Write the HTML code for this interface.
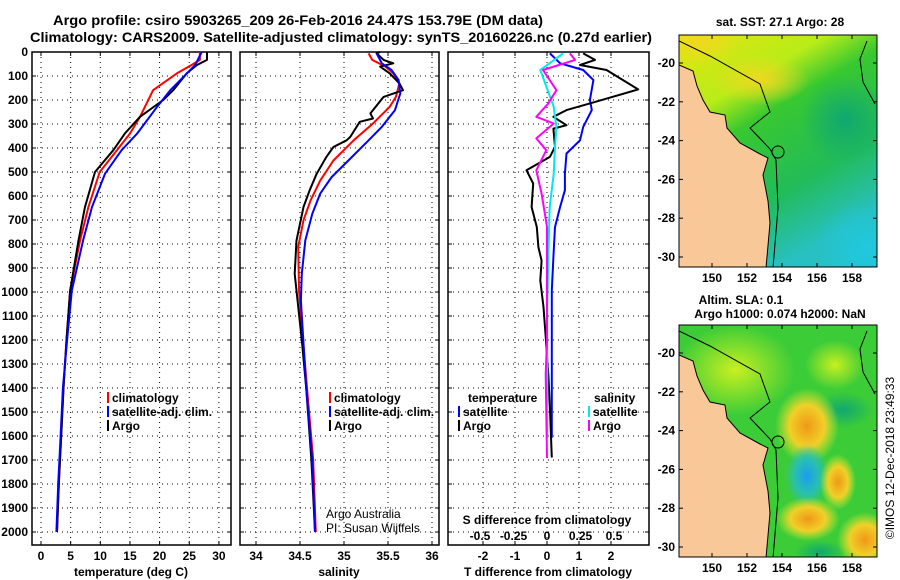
<!DOCTYPE html>
<html><head><meta charset="utf-8"><style>
html,body{margin:0;padding:0;background:#fff;}
svg{display:block;font-family:"Liberation Sans",sans-serif;}
.b{font-weight:bold;font-size:12px;}
.t{font-weight:bold;font-size:14px;}
</style></head><body>
<svg id="c" width="900" height="580" viewBox="0 0 900 580" xmlns="http://www.w3.org/2000/svg">
<defs>
<linearGradient id="sst" x1="0" y1="0" x2="0.5" y2="1">
<stop offset="0" stop-color="#e6e410"/><stop offset="0.3" stop-color="#b8ec18"/><stop offset="0.45" stop-color="#38c830"/><stop offset="0.75" stop-color="#22bc58"/><stop offset="1" stop-color="#28c0c0"/>
</linearGradient>
<radialGradient id="or"><stop offset="0" stop-color="#f09818"/><stop offset="0.55" stop-color="#f0d028"/><stop offset="1" stop-color="#d0e830" stop-opacity="0"/></radialGradient>
<radialGradient id="bl"><stop offset="0" stop-color="#1c9cf0"/><stop offset="0.55" stop-color="#28c0b0"/><stop offset="1" stop-color="#28c0b0" stop-opacity="0"/></radialGradient>
<radialGradient id="yl"><stop offset="0" stop-color="#c8f020"/><stop offset="1" stop-color="#c8f020" stop-opacity="0"/></radialGradient>
<radialGradient id="ye"><stop offset="0" stop-color="#f0d820"/><stop offset="1" stop-color="#f0d820" stop-opacity="0"/></radialGradient>
<radialGradient id="dg"><stop offset="0" stop-color="#10a870"/><stop offset="1" stop-color="#10a870" stop-opacity="0"/></radialGradient>
<radialGradient id="cy"><stop offset="0" stop-color="#20c8e0"/><stop offset="1" stop-color="#20c8e0" stop-opacity="0"/></radialGradient>
</defs>
<g id="g"></g>
</svg>
<script>
// ---- data ----
const tArgoD=[0,33,54,88,159,200,270,338,409,500,647,787,996,1200,1400,1600,1800,2000];
const tArgo=[28,28,26.3,24.6,22.3,20.6,16.7,14.2,12.2,9.1,7.4,6.3,4.9,4.3,3.8,3.4,3.0,2.7];
const tClimD=[0,33,54,89,159,270,340,409,500,646,785,994,1200,1400,1600,1800,2000];
const tClim=[26.8,26.8,25.4,22.9,18.9,16.7,15.0,12.8,9.9,8.0,6.6,4.9,4.3,3.8,3.4,3.0,2.7];
const tSatD=[0,54,89,159,228,340,409,507,646,785,994,1200,1400,1600,1800,2000];
const tSat=[27.1,26.0,24.6,21.8,19.6,16.2,13.6,10.8,8.6,7.1,5.2,4.4,3.7,3.3,2.9,2.6];
const sArgoD=[0,6,33,47,61,89,131,159,187,256,277,291,354,368,396,437,507,576,646,785,924,1200,1400,1700,2000];
const sArgo=[35.41,35.37,35.45,35.56,35.41,35.52,35.63,35.67,35.45,35.30,35.33,35.18,35.07,35.03,34.88,34.80,34.69,34.61,34.54,34.46,34.44,34.52,34.57,34.63,34.67];
const sClimD=[6,33,61,89,131,187,228,298,368,452,536,618,701,813,1000,1400,1700,2000];
const sClim=[35.28,35.32,35.47,35.56,35.63,35.59,35.52,35.33,35.11,34.88,34.73,34.62,34.54,34.48,34.49,34.58,34.65,34.68];
const sSatD=[6,47,75,117,173,242,312,368,452,521,590,674,785,924,1035,1400,1700,2000];
const sSat=[35.37,35.43,35.54,35.62,35.64,35.58,35.43,35.28,35.05,34.86,34.73,34.64,34.56,34.52,34.51,34.57,34.64,34.67];
const dTArgoD=[6,33,54,75,156,214,242,270,305,319,395,437,493,548,646,729,813,869,952,1063,1203,1342,1481,1690];
const dTArgo=[1.13,1.5,1.03,1.86,2.85,1.34,0.61,0.2,0.61,0.2,0.25,0.09,-0.64,-0.43,-0.48,-0.32,-0.27,-0.17,-0.21,-0.11,-0.03,0.04,0.09,0.15];
const dTSatD=[6,47,75,117,200,242,312,368,423,507,576,646,729,855,994,1200,1400,1607];
const dTSat=[0.09,0.41,1.13,1.45,1.34,1.40,1.13,1.03,0.61,0.56,0.56,0.41,0.25,0.2,0.15,0.15,0.15,0.15];
const dSArgoD=[6,33,75,159,214,270,298,360,409,493,590,729,924,1203,1342,1690];
const dSArgo=[0.17,0.21,-0.03,0.07,0.01,-0.08,0.05,-0.08,-0.005,-0.08,-0.04,0,0,0,-0.01,0];
const dSSatD=[6,75,228,312,395,507,646,855,1063,1342,1607];
const dSSat=[0.12,-0.05,0.05,0.07,0.06,0.05,0.02,0.01,0.002,0.002,0.002];
const depthTicks=[0,100,200,300,400,500,600,700,800,900,1000,1100,1200,1300,1400,1500,1600,1700,1800,1900,2000];
const tTicks=[0,5,10,15,20,25,30];
const sTicks=[34,34.5,35,35.5,36];
const dTTicks=[-2,-1,0,1,2];
const dSTicks=[-0.5,-0.25,0,0.25,0.5];
const lonTicks=[150,152,154,156,158];
const latTicks=[-20,-22,-24,-26,-28,-30];

// ---- axes ----
const Y=d=>52+d*0.24;
const xT=v=>41+v*5.93;
const xS=v=>256+(v-34)*88;
const xdT=v=>547+v*32;
const xdS=v=>547+v*134;
const lonX=l=>712+(l-150)*17.5;
const latY=(l,off)=>63+off+(-20-l)*19.4;

const NS='http://www.w3.org/2000/svg';
const G=document.getElementById('g');
function mk(tag,attrs,parent){const e=document.createElementNS(NS,tag);for(const k in attrs)e.setAttribute(k,attrs[k]);(parent||G).appendChild(e);return e;}
function txt(s,x,y,cls,anchor,parent){const e=mk('text',{x:x,y:y,'class':cls,'text-anchor':anchor||'middle'},parent);e.textContent=s;return e;}

let e;
e=txt('Argo profile: csiro 5903265_209 26-Feb-2016 24.47S 153.79E (DM data)',53,25,'t','start');
e.setAttribute('textLength','490');
e.setAttribute('lengthAdjust','spacingAndGlyphs');


e=txt('Climatology: CARS2009. Satellite-adjusted climatology: synTS_20160226.nc (0.27d earlier)',30,42,'t','start');
e.setAttribute('textLength','622');
e.setAttribute('lengthAdjust','spacingAndGlyphs');



function panel(x0,x1,name,xticks,xf,labs){
  const g=mk('g',{});
  
  
  depthTicks.forEach(d=>{mk('line',{x1:x0,x2:x1,y1:Y(d),y2:Y(d),stroke:'#000','stroke-width':1,'stroke-dasharray':'1,4'},g);
    mk('line',{x1:x0,x2:x0+4,y1:Y(d),y2:Y(d),stroke:'#000'},g);mk('line',{x1:x1-4,x2:x1,y1:Y(d),y2:Y(d),stroke:'#000'},g);});
  xticks.forEach((v,i)=>{const x=xf(v);mk('line',{x1:x,x2:x,y1:52,y2:545,stroke:'#000','stroke-width':1,'stroke-dasharray':'1,4'},g);
    mk('line',{x1:x,x2:x,y1:541,y2:545,stroke:'#000'},g);mk('line',{x1:x,x2:x,y1:52,y2:56,stroke:'#000'},g);
    if(labs)txt(labs[i],x,560,'b','middle',g);});
  mk('rect',{x:x0,y:52,width:x1-x0,height:493,fill:'none',stroke:'#000','stroke-width':1.5},g);
  return g;
}
const p1=panel(32,231,'temperature-panel',tTicks,xT,tTicks.map(String));
const p2=panel(240,439,'salinity-panel',sTicks,xS,sTicks.map(String));
const p3=panel(448,649,'difference-panel',dTTicks,xdT,dTTicks.map(String));
depthTicks.forEach(d=>{const t=txt(String(d),28,Y(d)+4,'b','end');});
e=txt('temperature (deg C)',131,576,'b');
e=txt('salinity',339,576,'b');
e=txt('T difference from climatology',548,576,'b');
e=txt('S difference from climatology',547,524,'b');
dSTicks.forEach(v=>{const t=txt(String(v),xdS(v),540,'b');});

function line(ds,vs,xf,color,name,parent){
  const pts=ds.map((d,i)=>xf(vs[i]).toFixed(1)+','+Y(d).toFixed(1)).join(' ');
  const l=mk('polyline',{points:pts,fill:'none',stroke:color,'stroke-width':2,'stroke-linejoin':'round'},parent);
  
  
}
line(tClimD,tClim,xT,'#ff0000','temp-climatology-line',p1);
line(tArgoD,tArgo,xT,'#000000','temp-argo-line',p1);
line(tSatD,tSat,xT,'#0000ff','temp-satellite-line',p1);
line(sClimD,sClim,xS,'#ff0000','sal-climatology-line',p2);
line(sArgoD,sArgo,xS,'#000000','sal-argo-line',p2);
line(sSatD,sSat,xS,'#0000ff','sal-satellite-line',p2);
line(dTSatD,dTSat,xdT,'#0000ff','tdiff-satellite-line',p3);
line(dTArgoD,dTArgo,xdT,'#000000','tdiff-argo-line',p3);
line(dSSatD,dSSat,xdS,'#00e8e8','sdiff-satellite-line',p3);
line(dSArgoD,dSArgo,xdS,'#ff00ff','sdiff-argo-line',p3);

function leg(x,y,color,label,name){
  const g=mk('g',{});
  
  
  mk('rect',{x:x,y:y-10,width:2,height:11,fill:color},g);
  txt(label,x+5,y,'b','start',g);
}
leg(107,402,'#f00','climatology','legend-climatology');
leg(107,416,'#00f','satellite-adj. clim.','legend-satellite-adj');
leg(107,430,'#000','Argo','legend-argo');
leg(329,402,'#f00','climatology','legend-climatology-sal');
leg(329,416,'#00f','satellite-adj. clim.','legend-satellite-adj-sal');
leg(329,430,'#000','Argo','legend-argo-sal');
e=txt('temperature',468,402,'b','start');
leg(458,416,'#00f','satellite','legend-t-satellite');
leg(458,430,'#000','Argo','legend-t-argo');
e=txt('salinity',594,402,'b','start');
leg(588,416,'#0ee','satellite','legend-s-satellite');
leg(588,430,'#f0f','Argo','legend-s-argo');
e=txt('Argo Australia',326,518,'','start');e.setAttribute('font-size','12');
e=txt('PI: Susan Wijffels',326,532,'','start');e.setAttribute('font-size','12');

// ---- maps (geometry in pixels relative to map 1) ----
const coast=[[679,65],[693,71],[697,86],[703,100],[710,112],[725,115],[727,128],[740,143],[760,154],[768,158],[763,175],[768,201],[770,223],[766,268],[679,268]];
const shelf=[[679,41],[710,56],[760,84],[770,112],[750,128],[770,149],[776,160],[778,208],[773,268]];
const shelf2=[[867,41],[860,59],[863,82],[875,104]];
function map(off,name,kind){
  const g=mk('g',{});
  
  
  const cp='cp'+off;
  const c=mk('clipPath',{id:cp},g);mk('rect',{x:679,y:35+off,width:198,height:232},c);
  const inner=mk('g',{'clip-path':'url(#'+cp+')'},g);
  if(kind==='sst'){
    mk('rect',{x:679,y:35,width:198,height:232,fill:'url(#sst)'},inner);
    mk('ellipse',{cx:700,cy:40,rx:40,ry:25,fill:'url(#ye)'},inner);
    mk('ellipse',{cx:760,cy:80,rx:50,ry:25,fill:'url(#ye)'},inner);
    mk('ellipse',{cx:845,cy:120,rx:45,ry:45,fill:'url(#dg)'},inner);
    mk('ellipse',{cx:865,cy:250,rx:50,ry:50,fill:'url(#cy)'},inner);
  } else {
    mk('rect',{x:679,y:35+off,width:198,height:232,fill:'#3ccc38'},inner);
    mk('ellipse',{cx:735,cy:80+off,rx:60,ry:45,fill:'url(#yl)'},inner);
    mk('ellipse',{cx:835,cy:75+off,rx:30,ry:25,fill:'url(#yl)'},inner);
    mk('ellipse',{cx:843,cy:120+off,rx:30,ry:18,fill:'url(#dg)'},inner);
    mk('ellipse',{cx:807,cy:136+off,rx:32,ry:38,fill:'url(#or)'},inner);
    mk('ellipse',{cx:807,cy:186+off,rx:22,ry:32,fill:'url(#bl)'},inner);
    mk('ellipse',{cx:838,cy:192+off,rx:18,ry:28,fill:'url(#or)'},inner);
    mk('ellipse',{cx:808,cy:229+off,rx:32,ry:22,fill:'url(#or)'},inner);
    mk('ellipse',{cx:865,cy:250+off,rx:28,ry:28,fill:'url(#or)'},inner);
    mk('ellipse',{cx:820,cy:262+off,rx:25,ry:12,fill:'url(#dg)'},inner);
  }
  mk('polygon',{points:coast.map(p=>p[0]+','+(p[1]+off)).join(' '),fill:'#f8c898',stroke:'#000','stroke-width':1},inner);
  mk('polyline',{points:shelf.map(p=>p[0]+','+(p[1]+off)).join(' '),fill:'none',stroke:'#000','stroke-width':1},inner);
  mk('polyline',{points:shelf2.map(p=>p[0]+','+(p[1]+off)).join(' '),fill:'none',stroke:'#000','stroke-width':1},inner);
  mk('circle',{cx:778,cy:152+off,r:6,fill:'none',stroke:'#000'},inner);
  mk('rect',{x:679,y:35+off,width:198,height:232,fill:'none',stroke:'#000'},g);
  lonTicks.forEach(l=>{const x=lonX(l);mk('line',{x1:x,x2:x,y1:263+off,y2:267+off,stroke:'#000'},g);mk('line',{x1:x,x2:x,y1:35+off,y2:39+off,stroke:'#000'},g);txt(String(l),x,282+off,'b','middle',g);});
  latTicks.forEach(l=>{const y=latY(l,off);mk('line',{x1:679,x2:683,y1:y,y2:y,stroke:'#000'},g);mk('line',{x1:873,x2:877,y1:y,y2:y,stroke:'#000'},g);txt(String(l),675,y+4,'b','end',g);});
}
map(0,'sst-map','sst');
map(290,'sla-map','sla');
e=txt('sat. SST: 27.1 Argo: 28',780,26,'b');
e=txt('Altim. SLA: 0.1',741,304,'b');
e=txt('Argo h1000: 0.074 h2000: NaN',780,318,'b');
e=txt('©IMOS 12-Dec-2018 23:49:33',0,0,'','middle');e.setAttribute('font-size','12');e.setAttribute('transform','translate(894,458) rotate(-90)');


</script>
</body></html>
